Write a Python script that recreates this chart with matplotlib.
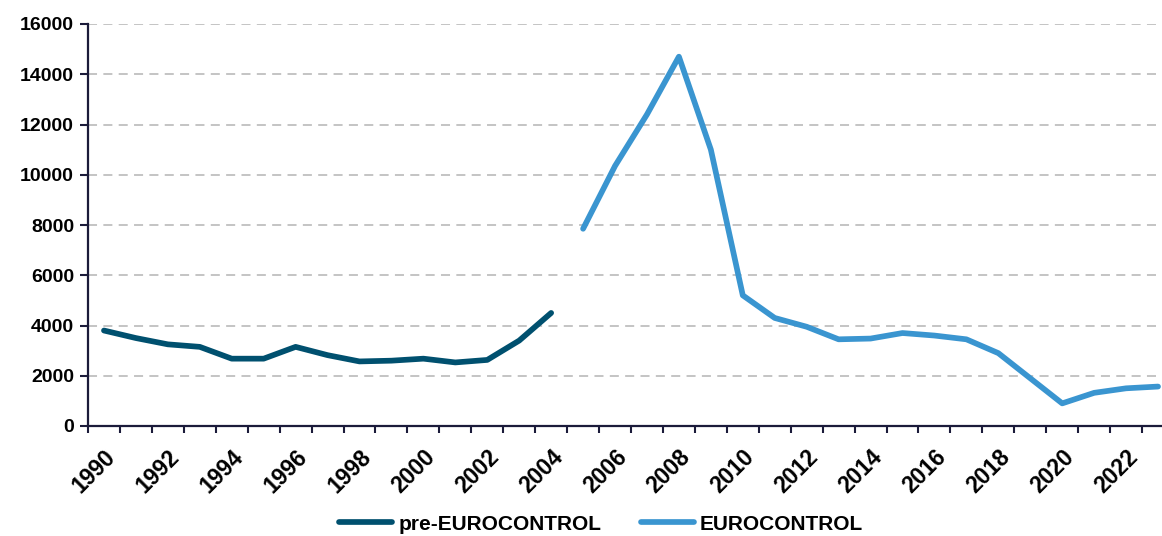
import matplotlib
matplotlib.use("Agg")
import matplotlib.pyplot as plt
import matplotlib.transforms as mtransforms
import numpy as np

years = list(range(1990, 2024))
pre_years = list(range(1990, 2005))
pre_values = [3800, 3500, 3250, 3150, 2680, 2680, 3150, 2820, 2570, 2600, 2680, 2530, 2630, 3400, 4500]
euro_years = list(range(2005, 2024))
euro_values = [7850, 10350, 12400, 14700, 11000, 5200, 4300, 3950, 3450, 3480, 3700, 3600, 3450, 2900, 1900, 900, 1320, 1500, 1570]
y_ticks = [0, 2000, 4000, 6000, 8000, 10000, 12000, 14000, 16000]

plt.rcParams['font.family'] = ['Liberation Sans', 'DejaVu Sans']
plt.rcParams['font.weight'] = 'bold'

fig = plt.figure(figsize=(11.62, 5.36), dpi=100)
ax = fig.add_axes([88/1162, 1-426/536, (1174-88)/1162, (426-24)/536])

idx = {y: i for i, y in enumerate(years)}
ax.plot([idx[y] for y in pre_years], pre_values, color='#00506F', lw=4.1,
        solid_capstyle='round', solid_joinstyle='round', label='pre-EUROCONTROL', zorder=3)
ax.plot([idx[y] for y in euro_years], euro_values, color='#3A95D0', lw=4.1,
        solid_capstyle='round', solid_joinstyle='round', label='EUROCONTROL', zorder=3)

ax.set_xlim(-0.5, len(years) - 0.5)
ax.set_ylim(0, 16000)
ax.set_yticks(y_ticks)
ax.set_yticklabels([str(v) for v in y_ticks], fontsize=14, fontweight='bold')
ax.yaxis.grid(True, color='#BFBFBF', linestyle=(0, (5, 3.5)), linewidth=1.3)
ax.set_axisbelow(True)

# category boundaries as major ticks, labels on minor ticks
ax.set_xticks(np.arange(-0.5, len(years), 1.0))
ax.set_xticklabels([])
label_pos = [idx[y] for y in years if y % 2 == 0]
ax.set_xticks(label_pos, minor=True)
ax.set_xticklabels([str(y) for y in years if y % 2 == 0], minor=True, rotation=45,
                   ha='right', rotation_mode='anchor', fontsize=16.5, fontweight='bold')
offset = mtransforms.ScaledTranslation(7/100, 0, fig.dpi_scale_trans)
for lab in ax.get_xticklabels(minor=True):
    lab.set_transform(lab.get_transform() + offset)
ax.tick_params(axis='x', which='minor', length=0, pad=14)
ax.tick_params(axis='x', which='major', length=5, width=1.5, color='#1B1B3A', direction='out')
ax.tick_params(axis='y', length=6, width=1.5, color='#1B1B3A', direction='out', pad=4)

for s in ['top', 'right']:
    ax.spines[s].set_visible(False)
for s in ['left', 'bottom']:
    ax.spines[s].set_color('#1B1B3A')
    ax.spines[s].set_linewidth(1.6)

fig.legend(loc='center', bbox_to_anchor=(601/1162, 1-524/536), ncol=2, frameon=False,
           handlelength=2.55, handletextpad=0.3, columnspacing=1.9,
           prop={'size': 15, 'weight': 'bold'})

fig.savefig('out.png', dpi=100)
